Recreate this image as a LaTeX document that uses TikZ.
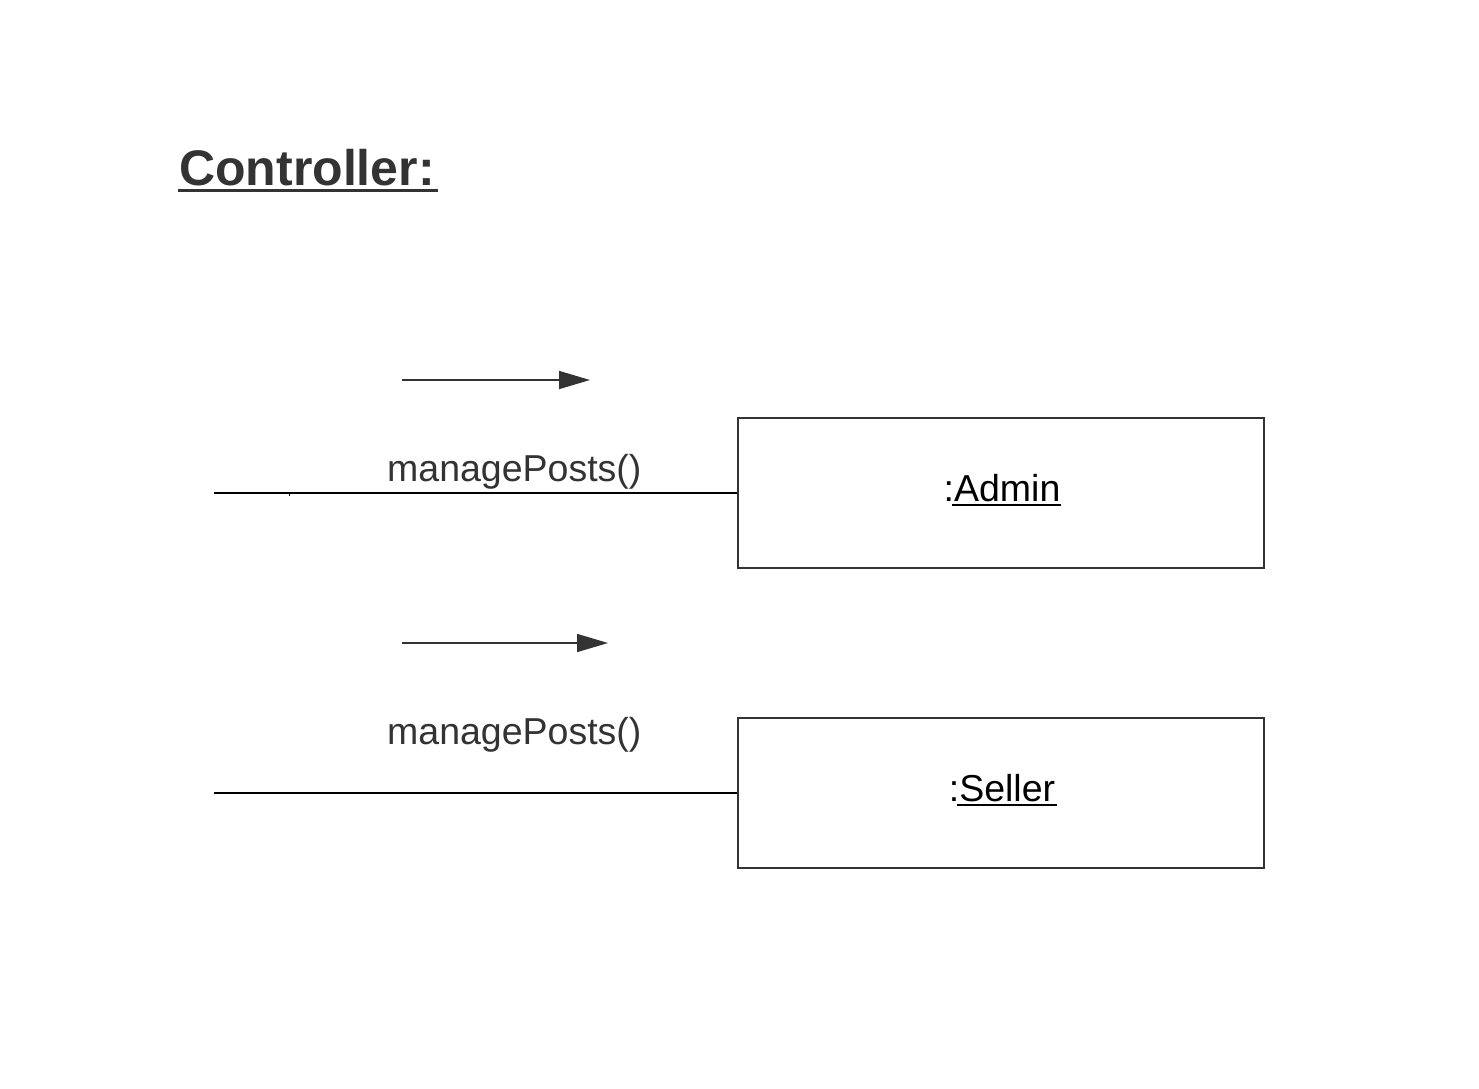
\documentclass[tikz,border=0pt]{standalone}
\usepackage{fontspec}
\setmainfont{Liberation Sans}
\usetikzlibrary{arrows.meta}
\definecolor{ink}{HTML}{333333}
\begin{document}
\begin{tikzpicture}[x=1pt,y=-1pt,
  obj/.style={draw=ink,line width=1.6pt,minimum width=526pt,minimum height=150pt,inner sep=0pt},
  objlabel/.style={font=\fontsize{37.5}{40}\selectfont,text=black,inner sep=0pt,anchor=base},
  msg/.style={font=\fontsize{37.5}{40}\selectfont,text=ink,inner sep=0pt,anchor=base west},
  link/.style={draw=black,line width=1.6pt},
  dirarrow/.style={draw=ink,line width=1.6pt,-{Triangle[length=31pt,width=18pt]}}]
\useasboundingbox (0,0) rectangle (1479,1088);
% title
\node[font=\bfseries\fontsize{50}{56}\selectfont,text=ink,inner sep=0pt,anchor=base west] (title) at (179,185) {Controller:};
\draw[ink,line width=3pt] (178,190) -- (438,190);
% objects
\node[obj] (admin) at (1001,493) {};
\node[obj] (seller) at (1001,793) {};
\node[objlabel] (adminlbl) at (1002,501) {:Admin};
\node[objlabel] (sellerlbl) at (1002,801) {:Seller};
\draw[black,line width=2.2pt] (952,505) -- (1061,505);
\draw[black,line width=2.2pt] (957,805) -- (1057,805);
% links
\coordinate (l1) at (214,493);
\coordinate (l2) at (214,793);
\draw[link] (l1) -- (admin.west);
\draw[link] (l2) -- (seller.west);
\draw[black,line width=1pt] (289,493) -- (289,496);
% messages
\node[msg] (m1) at (387,481) {managePosts()};
\node[msg] (m2) at (387,744) {managePosts()};
\coordinate (a1s) at (402,380);
\coordinate (a1e) at (590,380);
\coordinate (a2s) at (402,643);
\coordinate (a2e) at (608,643);
\draw[dirarrow] (a1s) -- (a1e);
\draw[dirarrow] (a2s) -- (a2e);
\end{tikzpicture}
\end{document}
